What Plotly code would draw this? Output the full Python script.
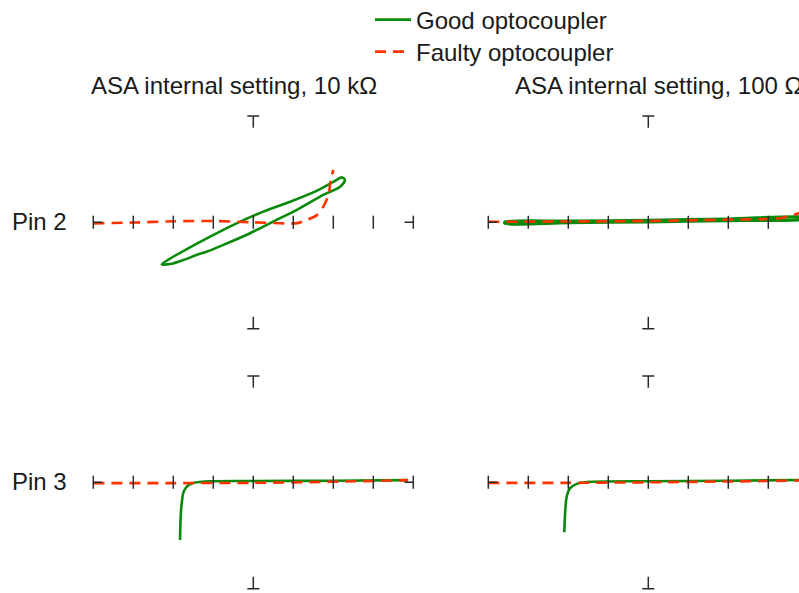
import plotly.graph_objects as go

W, H = 799, 593
FONT = "Liberation Sans, Arial, sans-serif"
GOOD_COLOR = "#0a8a0a"
FAULTY_COLOR = "#ff3300"
MARK_COLOR = "#2a2a2a"

# Screen divisions of the curve-tracer display (x and y in divisions)
DIVISIONS = [-4, -3, -2, -1, 0, 1, 2, 3, 4]
ROW_LABELS = ["Pin 2", "Pin 3"]
COL_TITLES = ["ASA internal setting, 10 kΩ", "ASA internal setting, 100 Ω"]
SERIES_NAMES = ["Good optocoupler", "Faulty optocoupler"]

# Pin 2, 10 kΩ
GOOD_P2_10K_X = [-2.29, -2.12, -1.75, -1.08, -0.42, 0.25, 0.92, 1.58, 2.00, 2.21, 2.29,
                 2.17, 1.75, 1.08, 0.58, -0.08, -0.75, -1.17, -1.42, -1.75, -2.08, -2.29]
GOOD_P2_10K_Y = [-1.58, -1.40, -1.08, -0.54, -0.04, 0.40, 0.77, 1.18, 1.52, 1.69, 1.59,
                 1.34, 1.03, 0.46, 0.09, -0.41, -0.85, -1.11, -1.23, -1.42, -1.57, -1.58]
FAULTY_P2_10K_X = [-4.0, -3.0, -2.0, -1.0, 0.0, 0.8, 1.1, 1.34, 1.59, 1.75, 1.88, 1.93, 2.0]
FAULTY_P2_10K_Y = [-0.04, -0.01, 0.04, 0.05, 0.0, -0.04, -0.03, 0.09, 0.27, 0.59, 1.03, 1.53, 1.97]

# Pin 2, 100 Ω
GOOD_P2_100_X = [-3.58, -2.0, 0.0, 2.0, 4.0, 4.0, 2.0, 0.0, -2.0, -3.58, -3.58]
GOOD_P2_100_Y = [-0.04, -0.01, 0.02, 0.07, 0.13, 0.18, 0.12, 0.07, 0.04, 0.01, -0.04]
FAULTY_P2_100_X = [-4.0, -2.0, 0.0, 2.0, 3.29, 3.54, 3.71, 3.9]
FAULTY_P2_100_Y = [0.02, 0.03, 0.05, 0.10, 0.15, 0.25, 0.31, 0.45]

# Pin 3, 10 kΩ
GOOD_P3_10K_X = [-1.83, -1.82, -1.79, -1.74, -1.64, -1.48, -1.08, 0.0, 2.0, 3.87]
GOOD_P3_10K_Y = [-2.17, -1.42, -0.79, -0.35, -0.13, -0.02, 0.04, 0.05, 0.06, 0.08]
FAULTY_P3_10K_X = [-4.0, -2.0, 0.0, 2.0, 3.87]
FAULTY_P3_10K_Y = [-0.03, -0.03, -0.02, 0.02, 0.08]

# Pin 3, 100 Ω
GOOD_P3_100_X = [-2.10, -2.08, -2.04, -1.96, -1.79, -1.54, 0.0, 2.0, 4.0]
GOOD_P3_100_Y = [-1.88, -1.17, -0.54, -0.23, -0.06, 0.01, 0.04, 0.06, 0.09]
FAULTY_P3_100_X = [-4.0, -2.0, 0.0, 2.0, 4.0]
FAULTY_P3_100_Y = [-0.02, -0.02, 0.0, 0.03, 0.07]

PANELS = [
    # (row, col, good x, good y, faulty x, faulty y)
    (0, 0, GOOD_P2_10K_X, GOOD_P2_10K_Y, FAULTY_P2_10K_X, FAULTY_P2_10K_Y),
    (0, 1, GOOD_P2_100_X, GOOD_P2_100_Y, FAULTY_P2_100_X, FAULTY_P2_100_Y),
    (1, 0, GOOD_P3_10K_X, GOOD_P3_10K_Y, FAULTY_P3_10K_X, FAULTY_P3_10K_Y),
    (1, 1, GOOD_P3_100_X, GOOD_P3_100_Y, FAULTY_P3_100_X, FAULTY_P3_100_Y),
]

# Display geometry (pixels)
PX_X, PX_Y = 40.0, 26.6
COL_CENTER = [253.3, 648.3]
ROW_CENTER = [222.3, 482.3]
X_RANGES = [[-4.35, 4.35], [-4.35, (W - COL_CENTER[1]) / PX_X]]
Y_RANGES = [[-4.3, 4.3], [-4.1, 4.3]]


def x_domain(c):
    lo, hi = X_RANGES[c]
    return [max(0.0, (COL_CENTER[c] + lo * PX_X) / W), min(1.0, (COL_CENTER[c] + hi * PX_X) / W)]


def y_domain(r):
    lo, hi = Y_RANGES[r]
    bottom_px = ROW_CENTER[r] - lo * PX_Y
    top_px = ROW_CENTER[r] - hi * PX_Y
    return [max(0.0, 1 - bottom_px / H), min(1.0, 1 - top_px / H)]


def axis_ids(r, c):
    xa = "x" if c == 0 else "x2"
    ya = "y" if r == 0 else "y2"
    return xa, ya


fig = go.Figure()

for r, c, gx, gy, fx, fy in PANELS:
    xa, ya = axis_ids(r, c)
    first = (r == 0 and c == 0)
    good_width = 3.4 if (r, c) == (0, 1) else 2.6
    fig.add_trace(go.Scatter(
        x=gx, y=gy, mode="lines", xaxis=xa, yaxis=ya,
        name=SERIES_NAMES[0], legend="legend", showlegend=first,
        line=dict(color=GOOD_COLOR, width=good_width, shape="spline", smoothing=0.8),
        hoverinfo="skip",
    ))
    fig.add_trace(go.Scatter(
        x=fx, y=fy, mode="lines", xaxis=xa, yaxis=ya,
        name=SERIES_NAMES[1], legend="legend2", showlegend=first,
        line=dict(color=FAULTY_COLOR, width=2.6, dash="11px,7px", shape="spline", smoothing=0.8),
        hoverinfo="skip",
    ))

# Graticule marks: ticks across the horizontal centre line plus end caps
shapes = []
TICK_HALF = 0.245
STUB = 0.22
CAP_HALF = 0.15
STEM = 0.45
line_style = dict(color=MARK_COLOR, width=1.5)
x_lo, x_hi = DIVISIONS[0], DIVISIONS[-1]
for r in range(2):
    for c in range(2):
        xa, ya = axis_ids(r, c)
        for d in DIVISIONS:
            shapes.append(dict(type="line", xref=xa, yref=ya, x0=d, x1=d,
                               y0=-TICK_HALF, y1=TICK_HALF, line=line_style))
        shapes.append(dict(type="line", xref=xa, yref=ya, x0=x_lo, x1=x_lo + STUB,
                           y0=0, y1=0, line=line_style))
        shapes.append(dict(type="line", xref=xa, yref=ya, x0=x_hi - STUB, x1=x_hi,
                           y0=0, y1=0, line=line_style))
        for end, sign in ((x_hi, 1), (x_lo, -1)):
            shapes.append(dict(type="line", xref=xa, yref=ya, x0=-CAP_HALF, x1=CAP_HALF,
                               y0=end, y1=end, line=line_style))
            shapes.append(dict(type="line", xref=xa, yref=ya, x0=0, x1=0,
                               y0=end, y1=end - sign * STEM, line=line_style))

annotations = []
TITLE_LEFT_PX = [89.3, 512.7]
for c, title in enumerate(COL_TITLES):
    annotations.append(dict(
        text=title, xref="paper", yref="paper", x=TITLE_LEFT_PX[c] / W, y=1 - 85.5 / H,
        xanchor="left", yanchor="middle", showarrow=False,
        font=dict(family=FONT, size=24, color="#1a1a1a"),
    ))
for r, label in enumerate(ROW_LABELS):
    annotations.append(dict(
        text=label, xref="paper", yref="paper", x=9.5 / W, y=1 - (ROW_CENTER[r] - 0.8) / H,
        xanchor="left", yanchor="middle", showarrow=False,
        font=dict(family=FONT, size=24, color="#1a1a1a"),
    ))

axis_common = dict(showgrid=False, zeroline=False, showticklabels=False,
                   showline=False, ticks="", fixedrange=True)

legend_common = dict(xanchor="left", yanchor="top",
                     font=dict(family=FONT, size=24, color="#1a1a1a"),
                     bgcolor="rgba(0,0,0,0)", itemwidth=36)

fig.update_layout(
    width=W, height=H,
    margin=dict(l=0, r=0, t=0, b=0, autoexpand=False),
    paper_bgcolor="white", plot_bgcolor="white",
    showlegend=True,
    legend=dict(x=370.0 / W, y=1 + 2.5 / H, **legend_common),
    legend2=dict(x=370.0 / W, y=1 - 29.5 / H, **legend_common),
    xaxis=dict(domain=x_domain(0), range=X_RANGES[0], anchor="y", **axis_common),
    xaxis2=dict(domain=x_domain(1), range=X_RANGES[1], anchor="y", **axis_common),
    yaxis=dict(domain=y_domain(0), range=Y_RANGES[0], anchor="x", **axis_common),
    yaxis2=dict(domain=y_domain(1), range=Y_RANGES[1], anchor="x", **axis_common),
    shapes=shapes,
    annotations=annotations,
)

fig.write_html("out.html")
